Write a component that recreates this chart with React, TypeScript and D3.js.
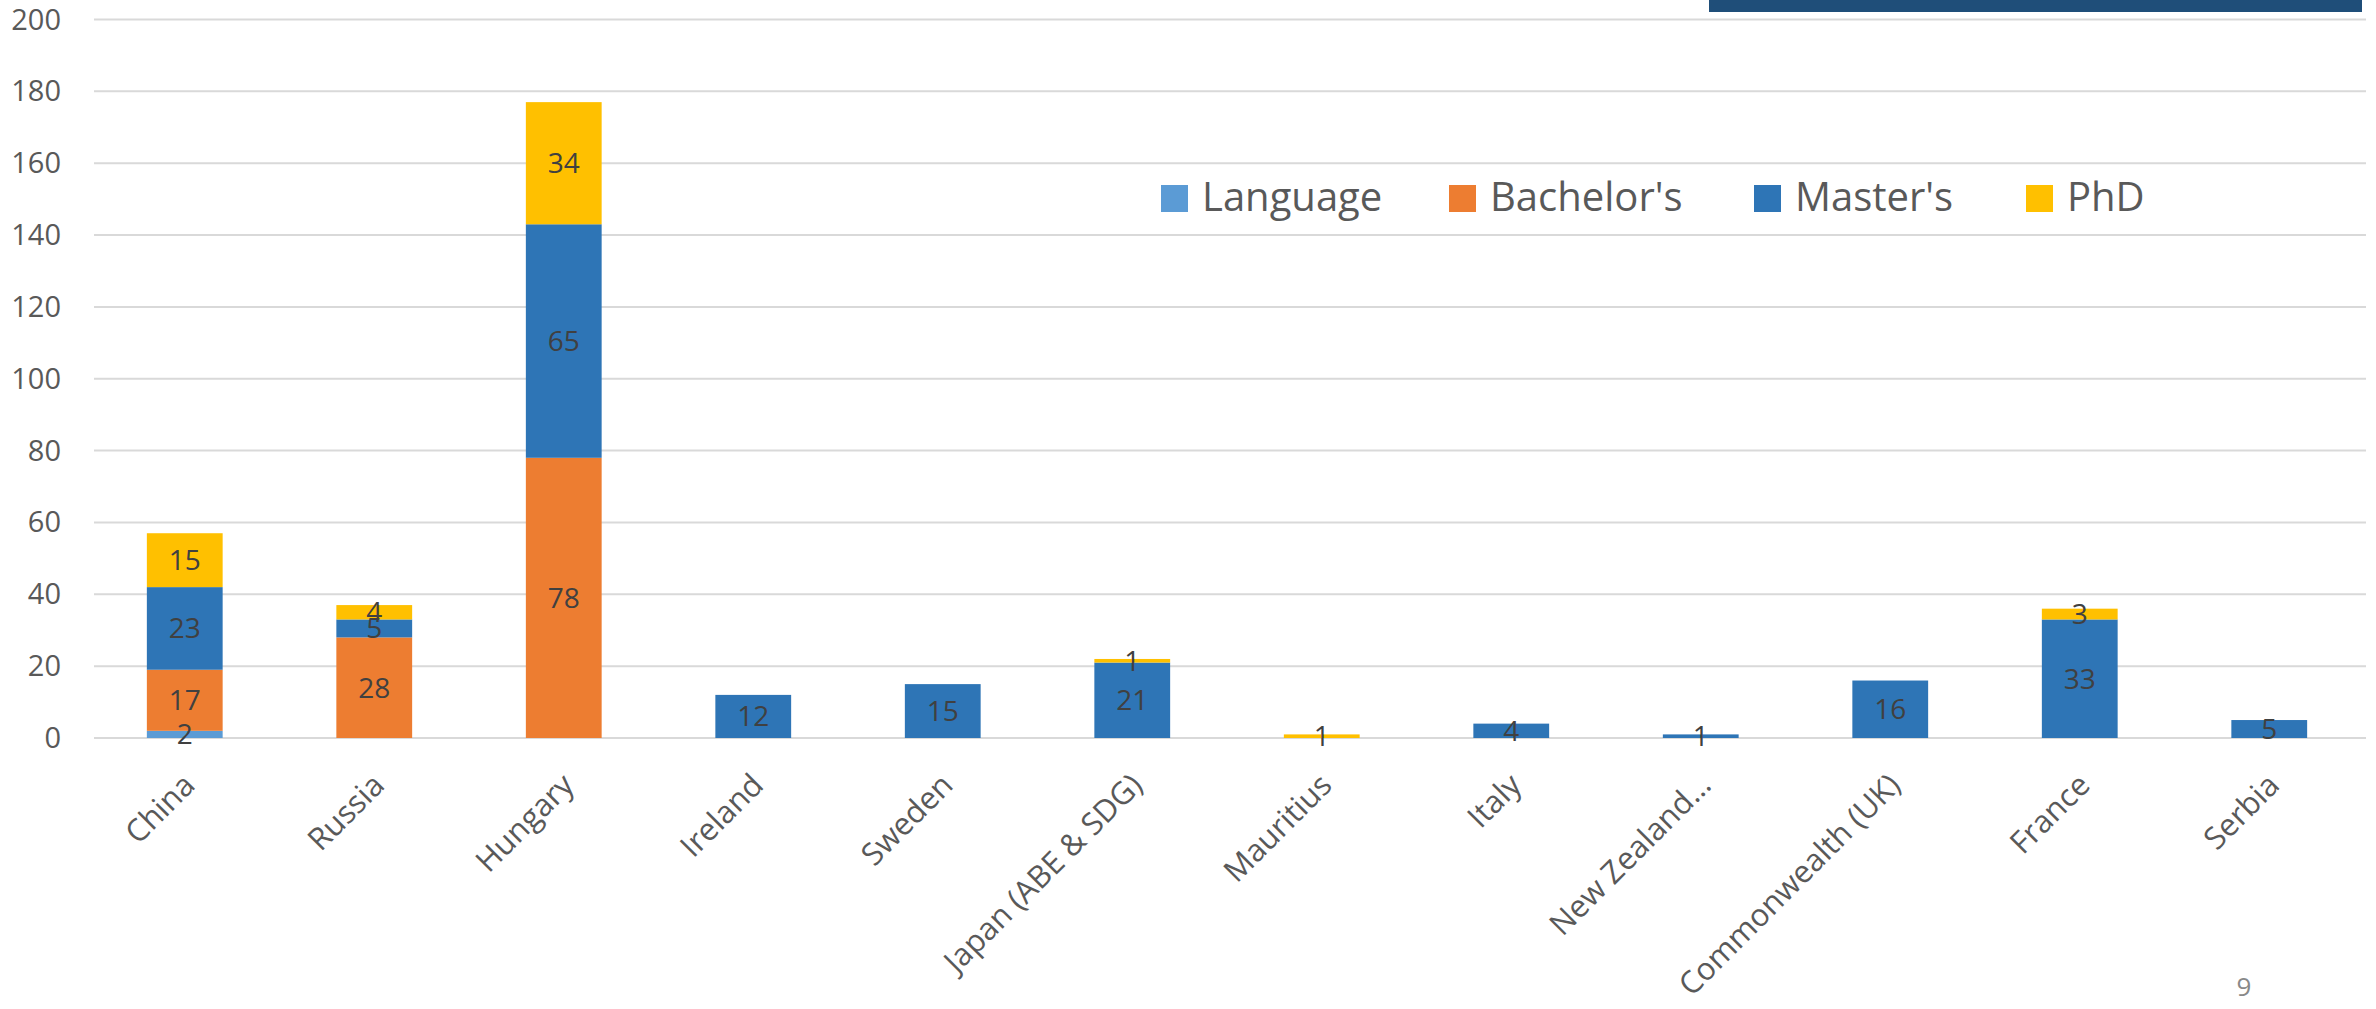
import * as d3 from "d3";

const CATEGORIES = [
  "China", "Russia", "Hungary", "Ireland", "Sweden", "Japan (ABE & SDG)",
  "Mauritius", "Italy", "New Zealand…", "Commonwealth (UK)", "France", "Serbia",
];
const SERIES = ["Language", "Bachelor's", "Master's", "PhD"];
const LANGUAGE = [2, 0, 0, 0, 0, 0, 0, 0, 0, 0, 0, 0];
const BACHELORS = [17, 28, 78, 0, 0, 0, 0, 0, 0, 0, 0, 0];
const MASTERS = [23, 5, 65, 12, 15, 21, 0, 4, 1, 16, 33, 5];
const PHD = [15, 4, 34, 0, 0, 1, 1, 0, 0, 0, 3, 0];
const Y_TICKS = [0, 20, 40, 60, 80, 100, 120, 140, 160, 180, 200];
const COLORS = ["#5B9BD5", "#ED7D31", "#2E75B6", "#FFC000"];

export default function App() {
  // layout config
  const W = 2376;
  const H = 1009;
  const plot = { left: 94, right: 2366, top: 19.5, bottom: 738 };
  const font = "'Open Sans', sans-serif";
  const legendX = [1161, 1449, 1754, 2026];

  const rows = CATEGORIES.map((c, i) => ({
    cat: c,
    "Language": LANGUAGE[i],
    "Bachelor's": BACHELORS[i],
    "Master's": MASTERS[i],
    "PhD": PHD[i],
  }));

  const stacked = d3.stack<any>().keys(SERIES)(rows);

  // bands sit a touch left of the gridline start, like the original
  const x = d3
    .scaleBand()
    .domain(CATEGORIES)
    .range([90, 2364])
    .paddingInner(0.6)
    .paddingOuter(0.3);

  const y = d3.scaleLinear().domain([0, 200]).range([plot.bottom, plot.top]);

  return (
    <svg
      width={W}
      height={H}
      style={{ position: "absolute", left: 0, top: 0, background: "#fff" }}
      fontFamily={font}
    >
      {/* dark banner top right */}
      <rect x={1709} y={0} width={653} height={12} fill="#1F4E79" />

      {/* gridlines + y labels */}
      {Y_TICKS.map((t) => (
        <g key={t}>
          <line
            x1={plot.left}
            x2={plot.right}
            y1={y(t)}
            y2={y(t)}
            stroke="#D9D9D9"
            strokeWidth={2}
          />
          <text
            x={61}
            y={y(t) + 10}
            textAnchor="end"
            fontSize={29}
            fill="#595959"
          >
            {t}
          </text>
        </g>
      ))}

      {/* bars */}
      {stacked.map((s, si) => (
        <g key={s.key} fill={COLORS[si]}>
          {s.map((d, i) =>
            d[1] - d[0] > 0 ? (
              <rect
                key={i}
                x={x(CATEGORIES[i])}
                y={y(d[1])}
                width={x.bandwidth()}
                height={y(d[0]) - y(d[1])}
              />
            ) : null
          )}
        </g>
      ))}

      {/* data labels */}
      {stacked.map((s) =>
        s.map((d, i) =>
          d[1] - d[0] > 0 ? (
            <text
              key={s.key + i}
              x={x(CATEGORIES[i])! + x.bandwidth() / 2}
              y={y((d[0] + d[1]) / 2) + 10}
              textAnchor="middle"
              fontSize={28}
              fill="#404040"
            >
              {d[1] - d[0]}
            </text>
          ) : null
        )
      )}

      {/* category labels */}
      {CATEGORIES.map((c) => {
        const cx = x(c)! + x.bandwidth() / 2 + 12;
        const cy = 787;
        return (
          <text
            key={c}
            x={cx}
            y={cy}
            transform={`rotate(-45,${cx},${cy})`}
            textAnchor="end"
            fontSize={31}
            fill="#595959"
          >
            {c}
          </text>
        );
      })}

      {/* legend */}
      {SERIES.map((s, i) => (
        <g key={s}>
          <rect x={legendX[i]} y={185} width={27} height={27} fill={COLORS[i]} />
          <text x={legendX[i] + 41} y={211} fontSize={40} fill="#595959">
            {s}
          </text>
        </g>
      ))}

      {/* page number */}
      <text x={2244} y={996} textAnchor="middle" fontSize={26} fill="#898989">
        9
      </text>
    </svg>
  );
}
